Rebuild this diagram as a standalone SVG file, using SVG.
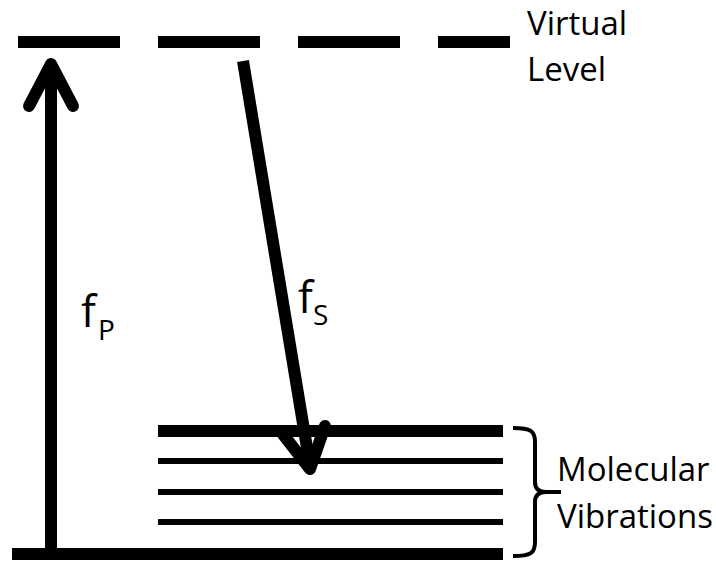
<svg xmlns="http://www.w3.org/2000/svg" width="716" height="561" viewBox="0 0 716 561">
<style>
.lbl{font-family:"Open Sans","Liberation Sans",sans-serif;fill:#000}
.big{font-size:33px}
.f{font-size:44px}
.sub{font-size:28px}
.thick{stroke:#000;stroke-width:12}
.thin{stroke:#000;stroke-width:6}
.arr{stroke:#000;stroke-width:12;fill:none;stroke-linejoin:round;stroke-linecap:round}
</style>
<rect width="716" height="561" fill="#fff"/>
<g id="virtual-level">
<line x1="18" y1="42" x2="510" y2="42" class="thick" stroke-dasharray="102 38"/>
<text class="lbl big" x="527" y="35">Virtual</text>
<text class="lbl big" x="527" y="81">Level</text>
</g>
<g id="molecular-vibrations">
<line x1="158" y1="431" x2="503" y2="431" class="thick"/>
<line x1="158" y1="461" x2="503" y2="461" class="thin"/>
<line x1="158" y1="492" x2="503" y2="492" class="thin"/>
<line x1="158" y1="522" x2="503" y2="522" class="thin"/>
<line x1="12" y1="554" x2="503" y2="554" class="thick"/>
<path d="M513,428 C531,428 535,431 535,442 L535,482 C535,489 539,492 546,492 L561,492 M513,556 C531,556 535,553 535,542 L535,502 C535,495 539,492 546,492" fill="none" stroke="#000" stroke-width="4"/>
<text class="lbl big" x="557" y="481">Molecular</text>
<text class="lbl big" x="557" y="528">Vibrations</text>
</g>
<g id="connectors">
<g id="pump">
<line x1="51" y1="548" x2="51" y2="66" class="thick"/>
<polyline points="29,106 51,64 73,106" class="arr"/>
</g>
<g id="stokes">
<line x1="243" y1="61" x2="310" y2="466" class="thick"/>
<polyline points="282,433 310,469 325,426" class="arr"/>
</g>
</g>
<g id="label-fp">
<text class="lbl f" x="81" y="327">f</text>
<text class="lbl sub" x="98" y="340">P</text>
</g>
<g id="label-fs">
<text class="lbl f" x="298" y="313">f</text>
<text class="lbl sub" x="313" y="325">S</text>
</g>
</svg>
